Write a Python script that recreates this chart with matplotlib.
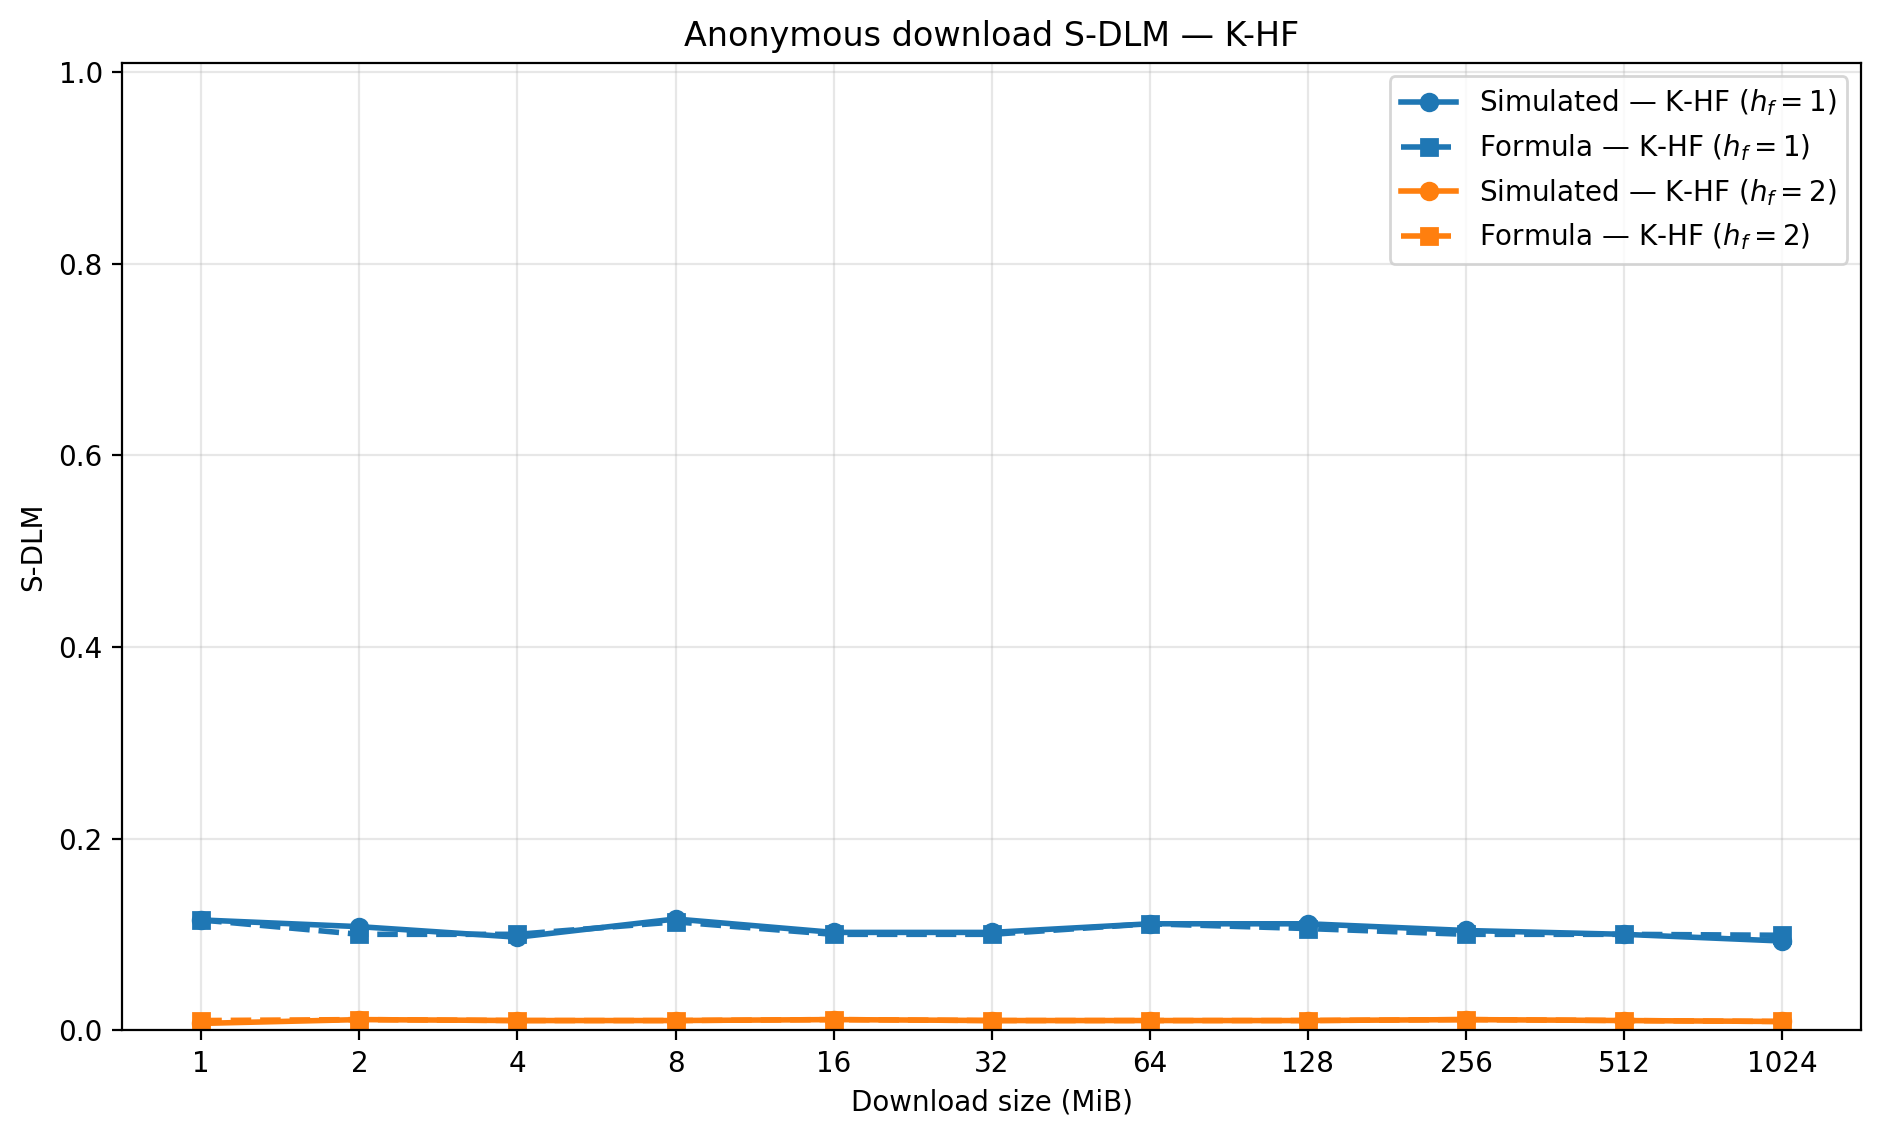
import matplotlib
matplotlib.use("Agg")
import matplotlib.pyplot as plt
import numpy as np

sizes = ['1', '2', '4', '8', '16', '32', '64', '128', '256', '512', '1024']

sim_h1 = [0.115, 0.108, 0.097, 0.116, 0.102, 0.102, 0.111, 0.111, 0.104, 0.100, 0.093]
formula_h1 = [0.115, 0.100, 0.100, 0.113, 0.100, 0.100, 0.111, 0.106, 0.100, 0.100, 0.099]
sim_h2 = [0.007, 0.011, 0.010, 0.010, 0.011, 0.010, 0.010, 0.010, 0.011, 0.010, 0.009]
formula_h2 = [0.010, 0.011, 0.010, 0.010, 0.011, 0.010, 0.010, 0.010, 0.011, 0.010, 0.009]

x = np.arange(len(sizes))

fig, ax = plt.subplots(figsize=(1880 / 200, 1137 / 200), dpi=200)

ax.plot(x, sim_h1, '-o', color='tab:blue', lw=2, label=r'Simulated — K-HF ($h_f=1$)')
ax.plot(x, formula_h1, '--s', color='tab:blue', lw=2, label=r'Formula — K-HF ($h_f=1$)')
ax.plot(x, sim_h2, '-o', color='tab:orange', lw=2, label=r'Simulated — K-HF ($h_f=2$)')
ax.plot(x, formula_h2, '--s', color='tab:orange', lw=2, label=r'Formula — K-HF ($h_f=2$)')

ax.set_xticks(x)
ax.set_xticklabels(sizes)
ax.set_xlim(-0.5, len(sizes) - 0.5)
ax.set_ylim(0, 1.01)
ax.grid(True, alpha=0.3)
ax.set_title('Anonymous download S-DLM — K-HF')
ax.set_xlabel('Download size (MiB)')
ax.set_ylabel('S-DLM')
ax.legend(loc='upper right')

fig.subplots_adjust(left=0.065, right=0.99, top=0.945, bottom=0.094)
fig.savefig('out.png', dpi=200)
